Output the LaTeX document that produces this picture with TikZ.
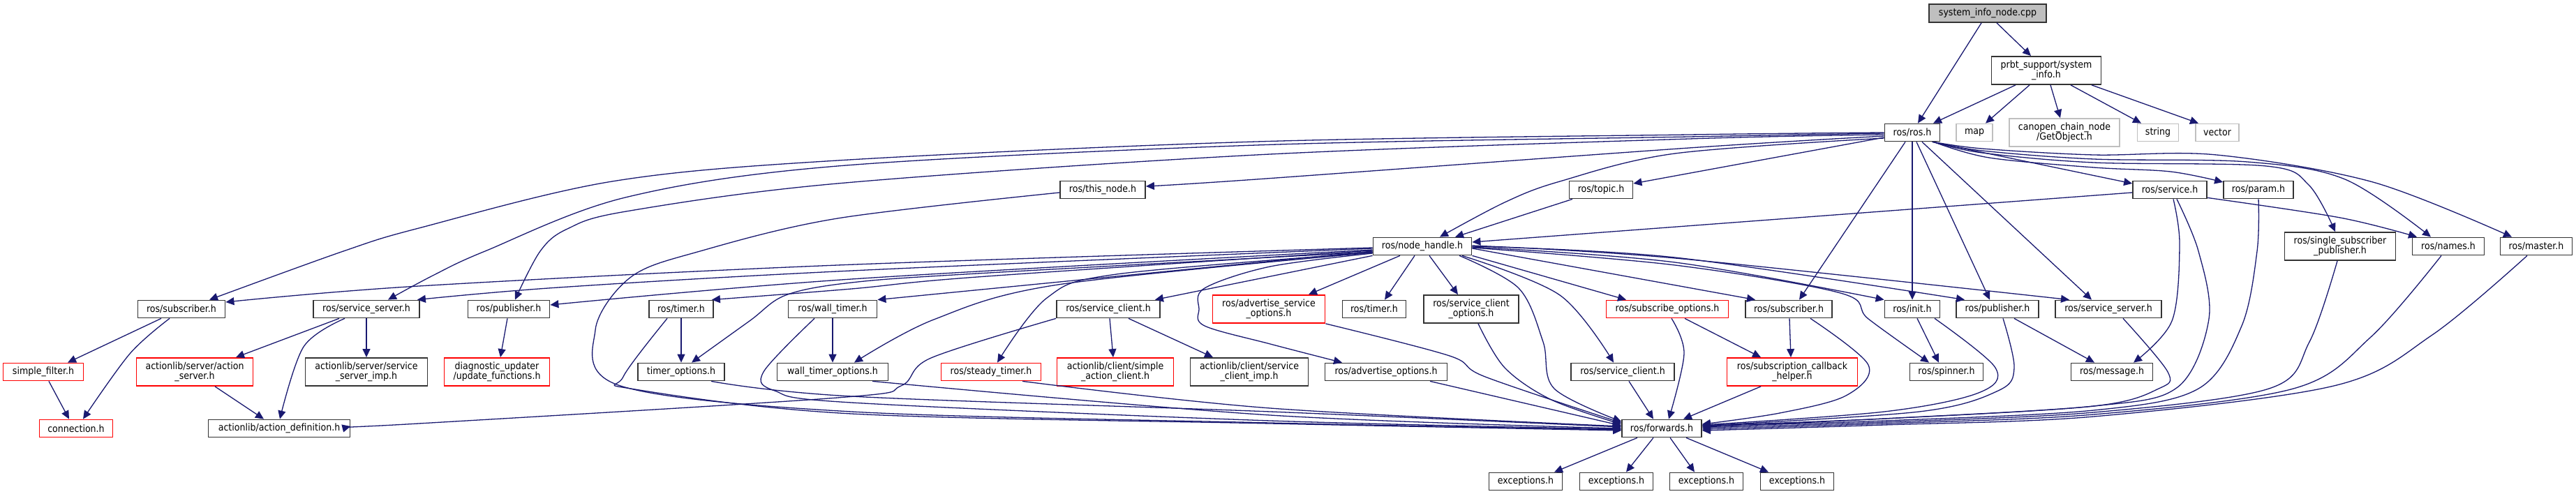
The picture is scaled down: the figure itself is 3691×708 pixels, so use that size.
\documentclass[tikz,border=0pt]{standalone}
\usepackage{fontspec}
\setmainfont{DejaVu Sans}[FakeStretch=0.9]
\usetikzlibrary{arrows.meta}
\definecolor{edgeblue}{HTML}{191970}
\definecolor{nodegrey}{HTML}{333333}
\definecolor{lightgreyb}{HTML}{BFBFBF}
\definecolor{redb}{HTML}{FF0000}
\newcommand\nodefont{\fontsize{14}{14}\selectfont}
\tikzset{
 box/.style={draw=nodegrey, line width=1.8pt, fill=white, minimum height=25pt, inner sep=0pt, font=\nodefont, align=center},
 two/.style={minimum height=40pt},
 redbox/.style={box, draw=redb},
 greybox/.style={box, draw=lightgreyb},
 wd/.style={minimum width=#1pt},
 ed/.style={draw=edgeblue, line width=1.3pt, -{Triangle[length=12pt,width=11pt]}},
 sm/.style={smooth, tension=0.55}
}
\begin{document}
\begin{tikzpicture}[x=1pt,y=-1pt]
\useasboundingbox (0,0) rectangle (3691,708);
% row 1
\node[box, wd=168, minimum height=26pt, fill=lightgreyb] (root) at (2848,19) {system\_info\_node.cpp};
\node[box, two, wd=157] (prbt) at (2932,101) {prbt\_support/system\\\_info.h};
\node[box, wd=79] (ros) at (2740,190) {ros/ros.h};
\node[greybox, wd=52] (map) at (2829,190) {map};
\node[greybox, two, wd=158] (canopen) at (2958,190) {canopen\_chain\_node\\/GetObject.h};
\node[greybox, wd=59] (string) at (3092,190) {string};
\node[greybox, wd=62] (vector) at (3177,190) {vector};
% row 2
\node[box, wd=122] (thisnode) at (1580,272) {ros/this\_node.h};
\node[box, wd=91] (topic) at (2294,272) {ros/topic.h};
\node[box, wd=106] (service) at (3109,272) {ros/service.h};
\node[box, wd=100] (param) at (3236,272) {ros/param.h};
\node[box, two, wd=159] (ssp) at (3353,353) {ros/single\_subscriber\\\_publisher.h};
\node[box, wd=103] (names) at (3508,353) {ros/names.h};
\node[box, wd=103] (master) at (3634,353) {ros/master.h};
\node[box, wd=141] (nh) at (2038,353) {ros/node\_handle.h};
% row 4
\node[box, wd=125] (subL) at (260,443) {ros/subscriber.h};
\node[box, wd=152] (ssL) at (525,443) {ros/service\_server.h};
\node[box, wd=117] (pubL) at (729,443) {ros/publisher.h};
\node[box, wd=92] (timerL) at (976,443) {ros/timer.h};
\node[box, wd=127] (wtimer) at (1193,443) {ros/wall\_timer.h};
\node[box, wd=148] (scU) at (1588,443) {ros/service\_client.h};
\node[redbox, two, wd=161] (aso) at (1818,443) {ros/advertise\_service\\\_options.h};
\node[box, wd=91] (timerR) at (1969,443) {ros/timer.h};
\node[box, two, wd=136] (sco) at (2108,443) {ros/service\_client\\\_options.h};
\node[redbox, wd=175] (subopt) at (2389,443) {ros/subscribe\_options.h};
\node[box, wd=124] (subR) at (2563,443) {ros/subscriber.h};
\node[box, wd=79] (init) at (2740,443) {ros/init.h};
\node[box, wd=118] (pubR) at (2862,443) {ros/publisher.h};
\node[box, wd=152] (ssR) at (3021,443) {ros/service\_server.h};
% row 5
\node[redbox, wd=115] (sfilter) at (62,533) {simple\_filter.h};
\node[redbox, two, wd=167] (aserver) at (279,533) {actionlib/server/action\\\_server.h};
\node[box, two, wd=175] (ssimp) at (525,533) {actionlib/server/service\\\_server\_imp.h};
\node[redbox, two, wd=151] (diag) at (712,533) {diagnostic\_updater\\/update\_functions.h};
\node[box, wd=124] (topt) at (976,533) {timer\_options.h};
\node[box, wd=159] (wtopt) at (1193,533) {wall\_timer\_options.h};
\node[redbox, wd=143] (steady) at (1420,533) {ros/steady\_timer.h};
\node[redbox, two, wd=167] (sac) at (1598,533) {actionlib/client/simple\\\_action\_client.h};
\node[box, two, wd=169] (scimp) at (1790,533) {actionlib/client/service\\\_client\_imp.h};
\node[box, wd=175] (advopt) at (1986,533) {ros/advertise\_options.h};
\node[box, wd=148] (scL) at (2325,533) {ros/service\_client.h};
\node[redbox, two, wd=187] (sch) at (2568,533) {ros/subscription\_callback\\\_helper.h};
\node[box, wd=105] (spinner) at (2789,533) {ros/spinner.h};
\node[box, wd=117] (message) at (3026,533) {ros/message.h};
% row 6
\node[redbox, wd=105] (conn) at (109,614) {connection.h};
\node[box, wd=203] (adef) at (400,614) {actionlib/action\_definition.h};
\node[box, wd=114] (fwd) at (2381,614) {ros/forwards.h};
% row 7
\node[box, wd=105] (ex1) at (2186,690) {exceptions.h};
\node[box, wd=105] (ex2) at (2316,690) {exceptions.h};
\node[box, wd=105] (ex3) at (2445,690) {exceptions.h};
\node[box, wd=105] (ex4) at (2575,690) {exceptions.h};

% ---- edges: top
\draw[ed] ([xshift=-9pt]root.south) -- ([xshift=8pt]ros.north);
\draw[ed] ([xshift=13pt]root.south) -- ([xshift=-22pt]prbt.north);
\draw[ed] ([xshift=-44pt]prbt.south) -- ([xshift=30pt]ros.north);
\draw[ed] ([xshift=-24pt]prbt.south) -- ([xshift=16pt]map.north);
\draw[ed] ([xshift=6pt]prbt.south) -- ([xshift=-6pt]canopen.north);
\draw[ed] ([xshift=35pt]prbt.south) -- ([xshift=-24pt]string.north);
\draw[ed] ([xshift=65pt]prbt.south) -- ([xshift=-27pt]vector.north);

% ---- ros.h
\draw[ed] plot[sm] coordinates {(ros.west) (2420,193) (1800,203) (1200,230) (877,260) (600,327) (492,360) ([xshift=40pt]subL.north)};
\draw[ed] plot[sm] coordinates {([yshift=-1pt]ros.west) (2420,196) (1800,208) (1200,238) (896,283) (695,360) (620,395) ([xshift=31pt]ssL.north)};
\draw[ed] plot[sm] coordinates {([yshift=-3pt]ros.west) (2420,199) (1800,222) (1200,263) (897,303) (813,328) (774,360) ([xshift=9pt]pubL.north)};
\draw[ed] plot[sm] coordinates {([yshift=-5pt]ros.west) (2420,212) (1800,257) ([yshift=5pt]thisnode.east)};
\draw[ed] plot[sm] coordinates {([yshift=-8pt]ros.west) (2400,220) (2235,260) (2156,290) ([xshift=25pt]nh.north)};
\draw[ed] ([yshift=-7pt]ros.west) -- ([yshift=9pt]topic.east);
\draw[ed] ([xshift=-12pt]ros.south east) -- ([yshift=9pt]service.west);
\draw[ed] plot[sm] coordinates {([xshift=-10pt]ros.south east) (2850,226) (3000,240) (3110,246) ([yshift=11pt]param.west)};
\draw[ed] plot[sm] coordinates {([xshift=-10pt]ros.south east) (2840,219) (3000,233) (3247,238) (3308,265) ([xshift=-7pt]ssp.north)};
\draw[ed] plot[sm] coordinates {([xshift=-10pt]ros.south east) (2840,216) (3000,228) (3220,232) (3360,257) ([xshift=-25pt]names.north)};
\draw[ed] plot[sm] coordinates {([xshift=-10pt]ros.south east) (2840,213) (3000,222) (3176,222) (3400,261) ([xshift=-35pt]master.north)};
\draw[ed] ([xshift=-10pt]ros.south) -- ([xshift=15pt]subR.north);
\draw[ed] (ros.south) -- (init.north);
\draw[ed] ([xshift=6pt]ros.south) -- ([xshift=-11pt]pubR.north);
\draw[ed] ([xshift=14pt]ros.south) -- ([xshift=-24pt]ssR.north);

% ---- service, param, ssp, names, master
\draw[ed] ([yshift=-4pt]service.west) -- ([yshift=6pt]nh.east);
\draw[ed] plot[sm] coordinates {([yshift=2pt]service.south east) (3353,312) ([xshift=-45pt]names.north)};
\draw[ed] plot[sm] coordinates {([xshift=5pt]service.south) (3123,350) (3112,460) ([xshift=31pt]message.north)};
\draw[ed] plot[sm] coordinates {([xshift=10pt]service.south) (3150,360) (3165,457) (3120,555) (3000,582) (2700,600) ([yshift=4pt]fwd.east)};
\draw[ed] plot[sm] coordinates {(param.south) (3234,360) (3212,467) (3150,557) (3000,588) (2700,603) ([yshift=3pt]fwd.east)};
\draw[ed] plot[sm] coordinates {([xshift=-4pt]ssp.south) (3309,490) (3251,557) (3000,591) (2700,605) ([yshift=1pt]fwd.east)};
\draw[ed] plot[sm] coordinates {([xshift=-10pt]names.south) (3397,483) (3286,557) (3000,594) (2700,607) ([yshift=-1pt]fwd.east)};
\draw[ed] plot[sm] coordinates {([xshift=-13pt]master.south) (3485,480) (3344,553) (3000,597) (2700,609) ([yshift=-3pt]fwd.east)};

% ---- topic, this_node
\draw[ed] ([xshift=-41pt]topic.south) -- ([xshift=47pt]nh.north);
\draw[ed] plot[sm] coordinates {([yshift=-4pt]thisnode.west) (1200,313) (1003,360) (904,397) (853,473) (889,553) (1220,590) (1820,606) ([yshift=-2pt]fwd.west)};

% ---- node_handle
\draw[ed] plot[sm] coordinates {([yshift=-2pt]nh.west) (1200,380) (600,410) ([yshift=10pt]subL.east)};
\draw[ed] plot[sm] coordinates {([yshift=-3pt]nh.west) (1220,388) (800,412) ([xshift=-4pt]ssL.north east)};
\draw[ed] plot[sm] coordinates {([yshift=-5pt]nh.west) (1220,400) ([yshift=6pt]pubL.east)};
\draw[ed] plot[sm] coordinates {([yshift=-6pt]nh.west) (1400,397) (1220,414) ([xshift=-3pt]timerL.north east)};
\draw[ed] ([yshift=-7pt]nh.west) -- (wtimer.north east);
\draw[ed] plot[sm] coordinates {([yshift=-8pt]nh.west) (1400,392) (1220,405) (1126,423) (1074,460) ([xshift=15pt]topt.north)};
\draw[ed] plot[sm] coordinates {([yshift=-9pt]nh.west) (1516,408) (1338,458) ([xshift=31pt]wtopt.north)};
\draw[ed] plot[sm] coordinates {([yshift=-9pt]nh.west) (1600,393) (1500,427) ([xshift=9pt]steady.north)};
\draw[ed] (nh.south west) -- ([xshift=-8pt]scU.north east);
\draw[ed] plot[sm] coordinates {([yshift=-10pt]nh.west) (1820,382) (1726,413) (1718,443) (1726,467) (1820,493) ([xshift=-63pt]advopt.north)};
\draw[ed] ([xshift=-32pt]nh.south) -- ([xshift=57pt]aso.north);
\draw[ed] ([xshift=-11pt]nh.south) -- ([xshift=15pt]timerR.north);
\draw[ed] ([xshift=10pt]nh.south) -- ([xshift=-19pt]sco.north);
\draw[ed] plot[sm] coordinates {([xshift=53pt]nh.south) (2176,413) (2211,490) (2227,557) ([yshift=10pt]fwd.west)};
\draw[ed] plot[sm] coordinates {([xshift=57pt]nh.south) (2235,423) ([xshift=-13pt]scL.north)};
\draw[ed] (nh.south east) -- ([xshift=-59pt]subopt.north);
\draw[ed] ([yshift=-3pt]nh.east) -- ([xshift=-48pt]subR.north);
\draw[ed] plot[sm] coordinates {([yshift=-1pt]nh.east) (2400,376) (init.north west)};
\draw[ed] plot[sm] coordinates {([yshift=-2pt]nh.east) (2400,380) (2637,420) (2677,457) ([xshift=-25pt]spinner.north)};
\draw[ed] plot[sm] coordinates {(nh.east) (2400,369) ([xshift=-47pt]pubR.north)};
\draw[ed] plot[sm] coordinates {([yshift=1pt]nh.east) (2400,370) ([xshift=-56pt]ssR.north)};

% ---- left part
\draw[ed] ([xshift=-29pt]subL.south) -- ([xshift=35pt]sfilter.north);
\draw[ed] plot[sm] coordinates {([xshift=-17pt]subL.south) (186,507) ([xshift=10pt]conn.north)};
\draw[ed] ([xshift=8pt]sfilter.south) -- ([xshift=-10pt]conn.north);
\draw[ed] ([xshift=-39pt]ssL.south) -- ([xshift=59pt]aserver.north);
\draw[ed] plot[sm] coordinates {([xshift=-31pt]ssL.south) (435,497) ([xshift=1pt]adef.north)};
\draw[ed] (ssL.south) -- (ssimp.north);
\draw[ed] ([xshift=29pt]aserver.south) -- ([xshift=-22pt]adef.north);
\draw[ed] plot[sm] coordinates {(scU.south west) (1334,513) (1291,553) (1200,570) (600,607) ([yshift=3pt]adef.east)};
\draw[ed] ([xshift=-2pt]pubL.south) -- ([xshift=5pt]diag.north);
\draw[ed] (timerL.south) -- (topt.north);
\draw[ed] plot[sm] coordinates {([xshift=-20pt]timerL.south) (893,540) (910,558) (1220,593) (1820,607) ([yshift=-3pt]fwd.west)};
\draw[ed] (wtimer.south) -- (wtopt.north);
\draw[ed] plot[sm] coordinates {([xshift=-26pt]wtimer.south) (1094,533) (1110,560) (1220,577) (1820,603) ([yshift=-1pt]fwd.west)};
\draw[ed] plot[sm] coordinates {([xshift=43pt]topt.south) (1220,568) (1820,590) ([yshift=2pt]fwd.west)};
\draw[ed] plot[sm] coordinates {([xshift=57pt]wtopt.south) (1820,595) (fwd.west)};
\draw[ed] plot[sm] coordinates {([xshift=45pt]steady.south) (1820,585) ([yshift=3pt]fwd.west)};
\draw[ed] ([xshift=2pt]scU.south) -- ([xshift=-3pt]sac.north);
\draw[ed] ([xshift=29pt]scU.south) -- ([xshift=-52pt]scimp.north);
\draw[ed] plot[sm] coordinates {(aso.south east) (2077,510) (2128,540) ([yshift=8pt]fwd.west)};
\draw[ed] plot[sm] coordinates {([xshift=10pt]sco.south) (2156,527) (2223,573) ([yshift=6pt]fwd.west)};
\draw[ed] ([xshift=63pt]advopt.south) -- ([yshift=4pt]fwd.west);

% ---- right part
\draw[ed] ([xshift=9pt]scL.south) -- ([xshift=-12pt]fwd.north);
\draw[ed] plot[sm] coordinates {([xshift=6pt]subopt.south) (2413,507) ([xshift=10pt]fwd.north)};
\draw[ed] ([xshift=25pt]subopt.south) -- ([xshift=-45pt]sch.north);
\draw[ed] ([xshift=1pt]subR.south) -- ([xshift=-2pt]sch.north);
\draw[ed] ([xshift=-45pt]sch.south) -- ([xshift=31pt]fwd.north);
\draw[ed] plot[sm] coordinates {([xshift=31pt]subR.south) (2677,523) (2645,567) (2550,592) ([yshift=6pt]fwd.east)};
\draw[ed] ([xshift=7pt]init.south) -- ([xshift=-11pt]spinner.north);
\draw[ed] plot[sm] coordinates {([xshift=32pt]init.south) (2859,527) (2835,563) (2700,590) ([yshift=5pt]fwd.east)};
\draw[ed] ([xshift=24pt]pubR.south) -- ([xshift=-25pt]message.north);
\draw[ed] plot[sm] coordinates {([xshift=8pt]pubR.south) (2886,527) (2863,560) (2750,590) ([yshift=4pt]fwd.east)};
\draw[ed] plot[sm] coordinates {([xshift=21pt]ssR.south) (3106,533) (3093,557) (3000,582) (2700,600) ([yshift=2pt]fwd.east)};

% ---- forwards -> exceptions
\draw[ed] ([xshift=-35pt]fwd.south) -- ([xshift=41pt]ex1.north);
\draw[ed] ([xshift=-12pt]fwd.south) -- ([xshift=14pt]ex2.north);
\draw[ed] ([xshift=12pt]fwd.south) -- ([xshift=-17pt]ex3.north);
\draw[ed] ([xshift=35pt]fwd.south) -- ([xshift=-41pt]ex4.north);
\end{tikzpicture}
\end{document}
